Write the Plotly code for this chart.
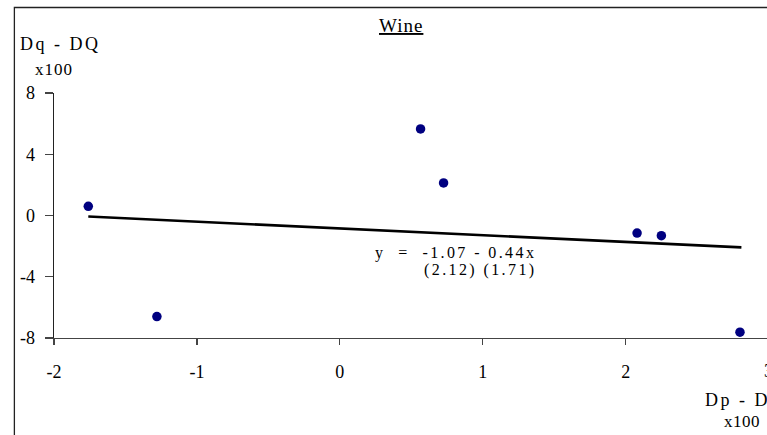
import json
import plotly.graph_objects as go

# ---- data ----
x_vals = [-1.76, -1.28, 0.565, 0.726, 2.08, 2.25, 2.80]
y_vals = [0.60, -6.60, 5.65, 2.13, -1.15, -1.32, -7.62]
trend_x = [-1.76, 2.81]
trend_y = [-0.07, -2.08]
x_ticks = [-2, -1, 0, 1, 2]
x_tick_labels = ["-2", "-1", "0", "1", "2"]
y_ticks = [-8, -4, 0, 4, 8]
y_tick_labels = ["-8", "-4", "0", "4", "8"]
title_text = "Wine"
y_title = "Dq - DQ"
x_title = "Dp - DP"
scale_text = "x100"
eq_line1 = "y  =  -1.07 - 0.44x"
eq_line2 = "(2.12) (1.71)"

W, H = 767, 435
L, T = 54.3, 92.7
B = H - 338.3
R = 0
pw = W - L - R
ph = H - T - B
ppu = 142.85  # px per x unit
xmax = -2 + pw / ppu


def xp(px):
    return (px - L) / pw


def yp(py):
    return (H - B - py) / ph


FONT = "Liberation Serif, Times New Roman, serif"

fig = go.Figure()
fig.add_trace(go.Scatter(x=trend_x, y=trend_y, mode="lines",
                         line=dict(color="black", width=2.6),
                         hoverinfo="skip", showlegend=False))
fig.add_trace(go.Scatter(x=x_vals, y=y_vals, mode="markers",
                         marker=dict(color="#000080", size=9.5),
                         showlegend=False))

ann = []
spacing = []


def add(text, x, y, size, xanchor="left", sp=0.0):
    ann.append(dict(text=text, x=xp(x), y=yp(y), xanchor=xanchor,
                    yanchor="middle", align="left" if xanchor == "left" else "center",
                    font=dict(size=size)))
    spacing.append(sp)


add("<u>" + title_text + "</u>", 401, 25, 19, xanchor="center", sp=1.0)
add(y_title, 18, 44, 18, sp=2.5)
add(scale_text, 33, 69, 17, sp=1.0)
add("3", 768.5, 371, 18, xanchor="center")
add(x_title, 703, 400, 18, sp=2.5)
add(scale_text, 722, 422, 17, sp=0.5)
add(eq_line1, 373, 253.5, 16, sp=2.4)
add(eq_line2, 421.7, 270, 16, sp=2.4)

for a in ann:
    a.update(xref="paper", yref="paper", showarrow=False)
    a["font"].update(family=FONT, color="black")

fig.update_layout(
    width=W, height=H,
    margin=dict(l=L, r=R, t=T, b=B, pad=0),
    plot_bgcolor="white", paper_bgcolor="white",
    font=dict(family=FONT, color="black", size=18),
    annotations=ann,
    shapes=[dict(type="rect", xref="paper", yref="paper",
                 x0=xp(14.7), x1=xp(W + 20), y0=yp(7), y1=yp(H + 20),
                 line=dict(color="#222", width=1.3), layer="below")],
    xaxis=dict(range=[-2, xmax], tickvals=x_ticks, ticktext=x_tick_labels,
               showgrid=False, zeroline=False, showline=True,
               linecolor="#444", linewidth=1.3,
               ticks="outside", ticklen=6, tickcolor="#444", tickwidth=1.3,
               ticklabelstandoff=11, tickfont=dict(size=18), automargin=False),
    yaxis=dict(range=[-8, 8], tickvals=y_ticks, ticktext=y_tick_labels,
               showgrid=False, zeroline=False, showline=True,
               linecolor="#222", linewidth=1.3,
               ticks="outside", ticklen=8, tickcolor="#444", tickwidth=1.3,
               ticklabelstandoff=6, tickfont=dict(size=18), automargin=False),
)

post = """
document.body.style.margin = '0';
document.body.style.overflow = 'hidden';
var sp = %s;
var gd = document.getElementById('{plot_id}');
var els = gd.querySelectorAll('.annotation-text');
els.forEach(function(e, i){ if (sp[i]) { e.style.letterSpacing = sp[i] + 'px'; } });
""" % json.dumps(spacing)

fig.write_html("out.html", post_script=post,
               config={"displayModeBar": False, "staticPlot": True})
